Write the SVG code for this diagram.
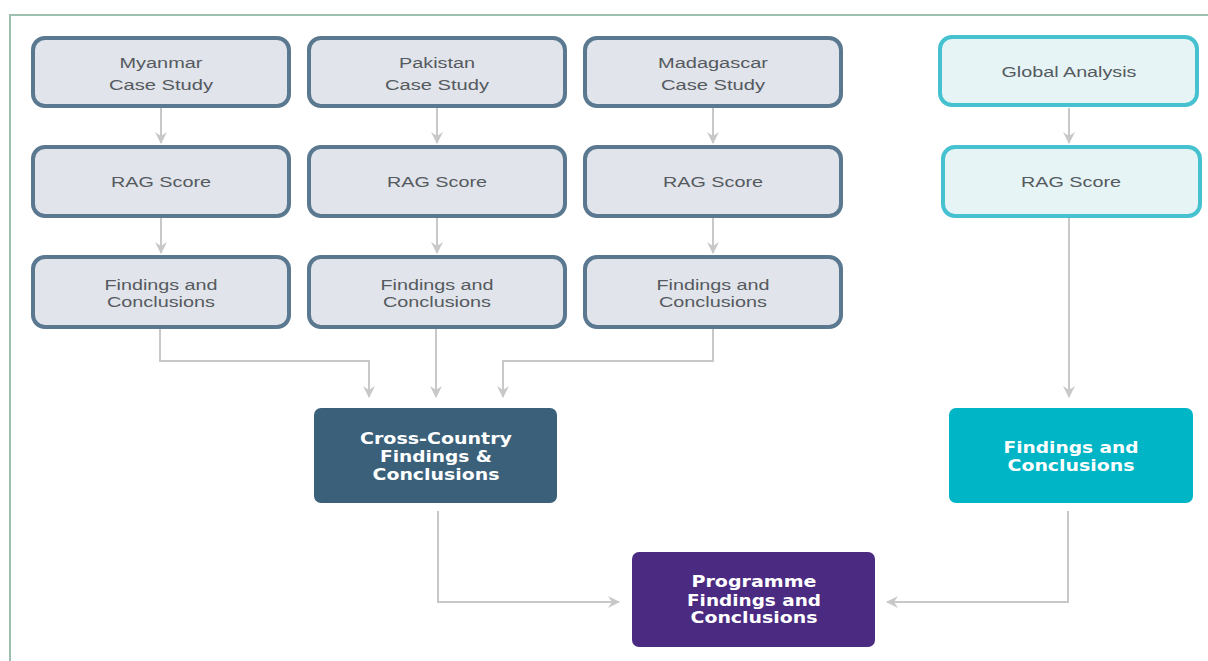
<svg xmlns="http://www.w3.org/2000/svg" width="1208" height="661" viewBox="0 0 1208 661">
<style>
.frame{fill:none;stroke:#9dbfb0;stroke-width:2}
.cs{fill:#e1e4ea;stroke:#5a7890;stroke-width:4}
.gl{fill:#e6f4f6;stroke:#45c1cf;stroke-width:4}
.lt{font-family:"Liberation Sans",Arial,sans-serif;font-size:15.5px;fill:#555a60;text-anchor:middle}
.bt{font-family:"DejaVu Sans",Verdana,sans-serif;font-weight:bold;font-size:15px;fill:#ffffff;text-anchor:middle}
.cn{fill:none;stroke:#c8c8c8;stroke-width:2}
</style>
<defs>
<marker id="ah" viewBox="0 0 12 12" refX="11" refY="6" markerWidth="12" markerHeight="12" markerUnits="userSpaceOnUse" orient="auto">
<path d="M0,0 L12,6 L0,12 L4,6 Z" fill="#c8c8c8"/>
</marker>
</defs>
<rect width="1208" height="661" fill="#ffffff"/>
<path class="frame" d="M1208,15 H10 V661"/>
<g id="myanmar"><rect class="cs" x="33" y="38" width="256" height="68" rx="12"/><text class="lt" x="161" y="68" textLength="83" lengthAdjust="spacingAndGlyphs">Myanmar</text><text class="lt" x="161" y="90" textLength="104" lengthAdjust="spacingAndGlyphs">Case Study</text></g>
<g id="pakistan"><rect class="cs" x="309" y="38" width="256" height="68" rx="12"/><text class="lt" x="437" y="68" textLength="76" lengthAdjust="spacingAndGlyphs">Pakistan</text><text class="lt" x="437" y="90" textLength="104" lengthAdjust="spacingAndGlyphs">Case Study</text></g>
<g id="madagascar"><rect class="cs" x="585" y="38" width="256" height="68" rx="12"/><text class="lt" x="713" y="68" textLength="110" lengthAdjust="spacingAndGlyphs">Madagascar</text><text class="lt" x="713" y="90" textLength="104" lengthAdjust="spacingAndGlyphs">Case Study</text></g>
<g id="global"><rect class="gl" x="940" y="37" width="257" height="68" rx="12"/><text class="lt" x="1069" y="77" textLength="135" lengthAdjust="spacingAndGlyphs">Global Analysis</text></g>
<g id="rag1"><rect class="cs" x="33" y="147" width="256" height="69" rx="12"/><text class="lt" x="161" y="187" textLength="100" lengthAdjust="spacingAndGlyphs">RAG Score</text></g>
<g id="rag2"><rect class="cs" x="309" y="147" width="256" height="69" rx="12"/><text class="lt" x="437" y="187" textLength="100" lengthAdjust="spacingAndGlyphs">RAG Score</text></g>
<g id="rag3"><rect class="cs" x="585" y="147" width="256" height="69" rx="12"/><text class="lt" x="713" y="187" textLength="100" lengthAdjust="spacingAndGlyphs">RAG Score</text></g>
<g id="rag4"><rect class="gl" x="943" y="147" width="257" height="69" rx="12"/><text class="lt" x="1071" y="187" textLength="100" lengthAdjust="spacingAndGlyphs">RAG Score</text></g>
<g id="find1"><rect class="cs" x="33" y="257" width="256" height="70" rx="12"/><text class="lt" x="161" y="290" textLength="113" lengthAdjust="spacingAndGlyphs">Findings and</text><text class="lt" x="161" y="307" textLength="108" lengthAdjust="spacingAndGlyphs">Conclusions</text></g>
<g id="find2"><rect class="cs" x="309" y="257" width="256" height="70" rx="12"/><text class="lt" x="437" y="290" textLength="113" lengthAdjust="spacingAndGlyphs">Findings and</text><text class="lt" x="437" y="307" textLength="108" lengthAdjust="spacingAndGlyphs">Conclusions</text></g>
<g id="find3"><rect class="cs" x="585" y="257" width="256" height="70" rx="12"/><text class="lt" x="713" y="290" textLength="113" lengthAdjust="spacingAndGlyphs">Findings and</text><text class="lt" x="713" y="307" textLength="108" lengthAdjust="spacingAndGlyphs">Conclusions</text></g>
<g id="cross"><rect x="314" y="408" width="243" height="95" rx="7" fill="#3a607a"/><text class="bt" x="436" y="444" textLength="152" lengthAdjust="spacingAndGlyphs">Cross-Country</text><text class="bt" x="436" y="462" textLength="112" lengthAdjust="spacingAndGlyphs">Findings &amp;</text><text class="bt" x="436" y="480" textLength="127" lengthAdjust="spacingAndGlyphs">Conclusions</text></g>
<g id="gfind"><rect x="949" y="408" width="244" height="95" rx="7" fill="#00b5c6"/><text class="bt" x="1071" y="453" textLength="135" lengthAdjust="spacingAndGlyphs">Findings and</text><text class="bt" x="1071" y="471" textLength="127" lengthAdjust="spacingAndGlyphs">Conclusions</text></g>
<g id="prog"><rect x="632" y="552" width="243" height="95" rx="7" fill="#4b2a82"/><text class="bt" x="754" y="587" textLength="125" lengthAdjust="spacingAndGlyphs">Programme</text><text class="bt" x="754" y="606" textLength="134" lengthAdjust="spacingAndGlyphs">Findings and</text><text class="bt" x="754" y="623" textLength="127" lengthAdjust="spacingAndGlyphs">Conclusions</text></g>
<g id="connectors">
<path class="cn" marker-end="url(#ah)" d="M161,108 V143"/>
<path class="cn" marker-end="url(#ah)" d="M437,108 V143"/>
<path class="cn" marker-end="url(#ah)" d="M713,108 V143"/>
<path class="cn" marker-end="url(#ah)" d="M1069,108 V143"/>
<path class="cn" marker-end="url(#ah)" d="M161,218 V253"/>
<path class="cn" marker-end="url(#ah)" d="M437,218 V253"/>
<path class="cn" marker-end="url(#ah)" d="M713,218 V253"/>
<path class="cn" marker-end="url(#ah)" d="M160,329 V361 H369 V397"/>
<path class="cn" marker-end="url(#ah)" d="M436,329 V397"/>
<path class="cn" marker-end="url(#ah)" d="M713,329 V361 H503 V397"/>
<path class="cn" marker-end="url(#ah)" d="M1069,218 V397"/>
<path class="cn" marker-end="url(#ah)" d="M438,511 V602 H619"/>
<path class="cn" marker-end="url(#ah)" d="M1068,511 V602 H887"/>
</g>
</svg>
